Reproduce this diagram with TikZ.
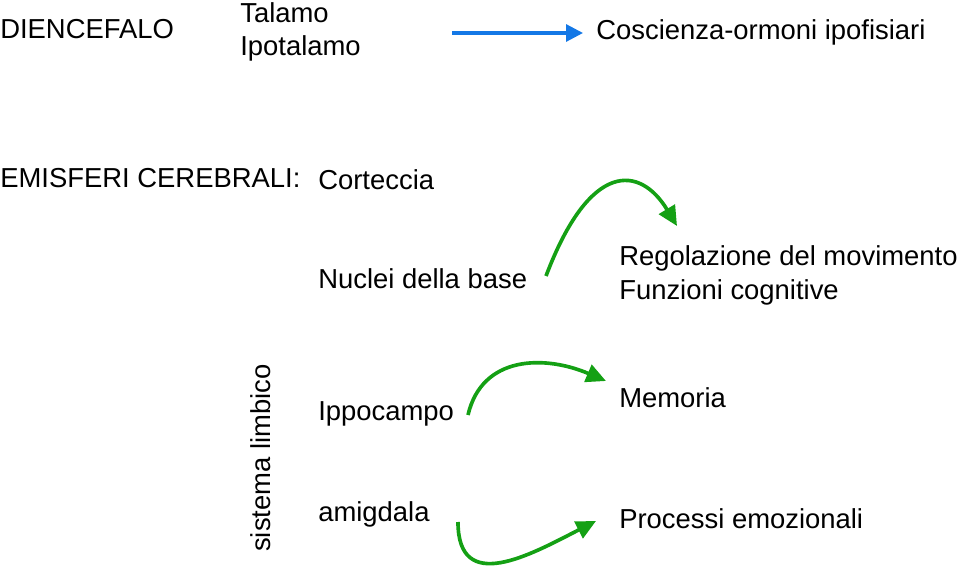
\documentclass[tikz,border=0pt]{standalone}
\usepackage{fontspec}
\setmainfont{Liberation Sans}
\usepackage{tikz}
\usetikzlibrary{arrows.meta, calc, positioning}
\definecolor{arrowblue}{RGB}{20,120,230}
\definecolor{arrowgreen}{RGB}{20,160,20}
\tikzstyle{label} = [inner sep=0pt, anchor=base west, font=\fontsize{19.5}{23}\selectfont]
\tikzstyle{bluearrow} = [line width=2.2pt, draw=arrowblue, -{Triangle[length=12pt,width=12pt]}]
\tikzstyle{greenarrow} = [line width=2.6pt, draw=arrowgreen, -{Triangle[length=14pt,width=13pt]}]

\begin{document}
\begin{tikzpicture}[x=0.025cm, y=-0.025cm]
		\useasboundingbox (0,0) rectangle (959,570);
		% first row
		\node (Diencefalo) [label] at (0,39) {DIENCEFALO};
		\node (Talamo) [label] at (240,23) {Talamo};
		\node (Ipotalamo) [label] at (240,56) {Ipotalamo};
		\node (Coscienza) [label] at (596,40) {Coscienza-ormoni ipofisiari};
		% emisferi
		\node (Emisferi) [label] at (0,188) {EMISFERI CEREBRALI:};
		\node (Corteccia) [label] at (318,190) {Corteccia};
		\node (Nuclei) [label] at (318,288) {Nuclei della base};
		\node (Regolazione) [label] at (619,266) {Regolazione del movimento};
		\node (Funzioni) [label] at (619,300) {Funzioni cognitive};
		% sistema limbico
		\node (Limbico) [label, rotate=90] at (270,552) {sistema limbico};
		\node (Ippocampo) [label] at (318,420) {Ippocampo};
		\node (Amigdala) [label] at (318,521) {amigdala};
		\node (Memoria) [label] at (619,407) {Memoria};
		\node (Processi) [label] at (619,528) {Processi emozionali};
		% end points of the arrows
		\coordinate (BlueStart) at (452,33);
		\coordinate (BlueEnd) at (583,33);
		\coordinate (NucleiOut) at (546,276);
		\coordinate (RegolazioneIn) at (677,226);
		\coordinate (IppocampoOut) at (468,415);
		\coordinate (MemoriaIn) at (606,381);
		\coordinate (AmigdalaOut) at (458,522);
		\coordinate (ProcessiIn) at (596,521);
		\draw [bluearrow] (BlueStart) -- (BlueEnd);
		\draw [greenarrow] (NucleiOut) .. controls (590,160) and (640,165) .. (RegolazioneIn);
		\draw [greenarrow] (IppocampoOut) .. controls (482,355) and (545,355) .. (MemoriaIn);
		\draw [greenarrow] (AmigdalaOut) .. controls (458,595) and (530,555) .. (ProcessiIn);
\end{tikzpicture}
\end{document}
